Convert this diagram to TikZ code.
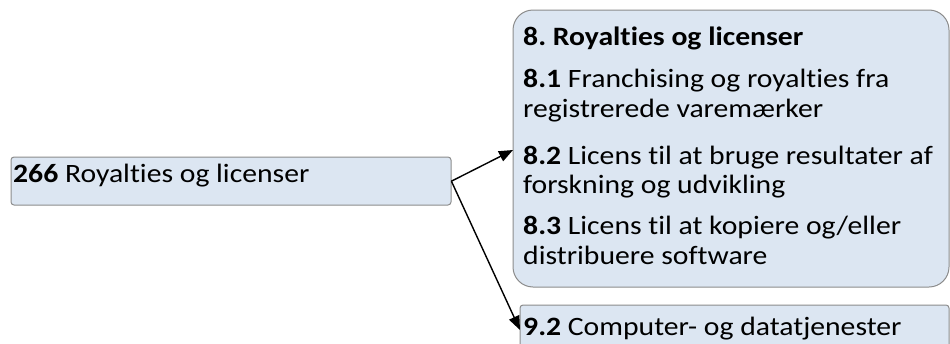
\documentclass[tikz,border=0pt]{standalone}
\usepackage{fontspec}
\setmainfont{Carlito}[FakeStretch=1.12, Ligatures=NoCommon]
\usetikzlibrary{arrows.meta}
\definecolor{boxfill}{HTML}{DCE6F2}
\definecolor{boxline}{HTML}{8C8C8C}
\tikzset{
  x=1pt, y=-1pt,
  box/.style={draw=boxline, fill=boxfill, line width=1pt},
  txt/.style={anchor=base west, inner sep=0pt, font=\fontsize{26.5}{30}\selectfont},
  arr/.style={line width=1.4pt, -{Triangle[length=14pt,width=11pt]}},
}
\begin{document}
\frenchspacing
\begin{tikzpicture}
\clip (0,0) rectangle (950,343);
\useasboundingbox (0,0) rectangle (950,343);
% boxes
\draw[box, rounded corners=3pt] (11,157) rectangle (451,205);
\node[inner sep=0pt, minimum width=440pt, minimum height=48pt, anchor=north west] (src) at (11,157) {};
\draw[box, rounded corners=20pt] (513,10) rectangle (949,287);
\node[inner sep=0pt, minimum width=436pt, minimum height=277pt, anchor=north west] (big) at (513,10) {};
\draw[box, rounded corners=3pt] (520,305) rectangle (949,380);
\node[inner sep=0pt, minimum width=429pt, minimum height=75pt, anchor=north west] (bot) at (520,305) {};
% texts
\node[txt] (t0) at (13,182) {\textbf{266} Royalties og licenser};
\node[txt] (a0) at (523,45) {\textbf{8. Royalties og licenser}};
\node[txt] (a1) at (523,87) {\textbf{8.1} Franchising og royalties fra};
\node[txt] (a2) at (523,117) {registrerede varemærker};
\node[txt] (a3) at (523,164) {\textbf{8.2} Licens til at bruge resultater af};
\node[txt] (a4) at (523,193) {forskning og udvikling};
\node[txt] (a5) at (523,234) {\textbf{8.3} Licens til at kopiere og/eller};
\node[txt] (a6) at (523,264) {distribuere software};
\node[txt] (b0) at (523,335) {\textbf{9.2} Computer- og datatjenester};
% connectors
\coordinate (e1) at (big.west |- 0,150);
\coordinate (e2) at (bot.west |- 0,330);
\draw[arr] (src.east) -- (e1);
\draw[arr] (src.east) -- (e2);
\end{tikzpicture}
\end{document}
